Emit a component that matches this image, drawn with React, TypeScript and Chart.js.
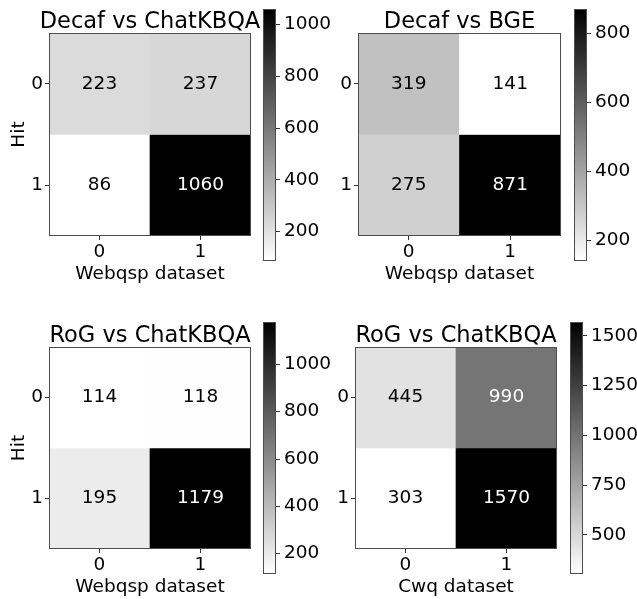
import React, { useEffect, useRef } from "react";
import { Chart, registerables } from "chart.js";

Chart.register(...registerables);

const FONT = "'DejaVu Sans', sans-serif";

// ---------- data ----------
const xLabels = ["0", "1"];
const yLabels = ["0", "1"];
const yTitle = "Hit";

const titles = ["Decaf vs ChatKBQA", "Decaf vs BGE", "RoG vs ChatKBQA", "RoG vs ChatKBQA"];
const xTitles = ["Webqsp dataset", "Webqsp dataset", "Webqsp dataset", "Cwq dataset"];

const decafChatkbqa = [
  [223, 237],
  [86, 1060],
];
const decafBge = [
  [319, 141],
  [275, 871],
];
const rogChatkbqaWebqsp = [
  [114, 118],
  [195, 1179],
];
const rogChatkbqaCwq = [
  [445, 990],
  [303, 1570],
];

const cbTicks1 = [200, 400, 600, 800, 1000];
const cbTicks2 = [200, 400, 600, 800];
const cbTicks3 = [200, 400, 600, 800, 1000];
const cbTicks4 = [500, 750, 1000, 1250, 1500];

// ---------- helpers ----------
function grayR(v: number, vmin: number, vmax: number) {
  const t = Math.max(0, Math.min(1, (v - vmin) / (vmax - vmin)));
  const g = Math.round(255 * (1 - t));
  return `rgb(${g},${g},${g})`;
}

const boxPlugin = {
  id: "box",
  afterDraw(chart: any) {
    const { ctx, chartArea } = chart;
    ctx.save();
    ctx.strokeStyle = "#4d4d4d";
    ctx.lineWidth = 1;
    ctx.strokeRect(
      Math.round(chartArea.left) + 0.5,
      Math.round(chartArea.top) + 0.5,
      Math.round(chartArea.right - chartArea.left) - 1,
      Math.round(chartArea.bottom - chartArea.top) - 1
    );
    ctx.restore();
  },
};

const valuePlugin = {
  id: "cellValues",
  afterDatasetsDraw(chart: any) {
    const { ctx } = chart;
    const opts = chart.options.plugins.cellValues;
    ctx.save();
    ctx.font = `18.5px ${FONT}`;
    ctx.textAlign = "center";
    ctx.textBaseline = "middle";
    chart.data.datasets.forEach((ds: any, di: number) => {
      const meta = chart.getDatasetMeta(di);
      meta.data.forEach((el: any, i: number) => {
        const v = ds.values[i];
        ctx.fillStyle = v > opts.mid ? "#ffffff" : "#000000";
        ctx.fillText(String(v), el.x, (el.y + el.base) / 2);
      });
    });
    ctx.restore();
  },
};

type HeatProps = {
  matrix: number[][];
  title: string;
  xTitle: string;
  showYTitle: boolean;
  plotL: number;
  plotT: number;
  plotW: number;
  plotH: number;
};

const PAD_SIDE = 49;
const PAD_TOP = 33;
const PAD_BOTTOM = 49;

function Heatmap({ matrix, title, xTitle, showYTitle, plotL, plotT, plotW, plotH }: HeatProps) {
  const ref = useRef<HTMLCanvasElement>(null);
  const cw = plotW + PAD_SIDE * 2;
  const ch = plotH + PAD_TOP + PAD_BOTTOM;
  useEffect(() => {
    const flat = matrix.flat();
    const vmin = Math.min(...flat);
    const vmax = Math.max(...flat);
    const datasets = matrix.map((row, r) => ({
      label: yLabels[r],
      data: row.map(() => [r - 0.5, r + 0.5]),
      values: row,
      backgroundColor: row.map((v) => grayR(v, vmin, vmax)),
      borderWidth: 0,
      barPercentage: 1,
      categoryPercentage: 1,
      grouped: false,
    }));
    const tickFont = { family: FONT, size: 18.5 };
    const chart = new Chart(ref.current as HTMLCanvasElement, {
      type: "bar",
      data: { labels: xLabels, datasets: datasets as any },
      plugins: [boxPlugin, valuePlugin],
      options: {
        animation: false,
        responsive: false,
        devicePixelRatio: 1,
        layout: { padding: { top: 10.5, left: 0, right: 0, bottom: 0 } },
        plugins: {
          legend: { display: false },
          tooltip: { enabled: false },
          title: {
            display: true,
            text: title,
            color: "#000",
            font: { family: FONT, size: 22.5, weight: "normal", lineHeight: 1 },
            padding: 0,
          },
          cellValues: { mid: (vmin + vmax) / 2 },
        } as any,
        scales: {
          x: {
            type: "category",
            offset: true,
            grid: { offset: false, drawOnChartArea: false, drawTicks: true, tickLength: 4, color: "#333" },
            border: { display: false },
            ticks: { font: tickFont, color: "#000", padding: 1, maxRotation: 0 },
            title: { display: true, text: xTitle, color: "#000", font: tickFont, padding: { top: 0, bottom: 0 } },
            afterFit: (s: any) => {
              s.height = PAD_BOTTOM;
            },
          },
          y: {
            type: "linear",
            min: -0.5,
            max: 1.5,
            reverse: true,
            afterBuildTicks: (s: any) => {
              s.ticks = yLabels.map((_, i) => ({ value: i }));
            },
            ticks: {
              font: tickFont,
              color: "#000",
              padding: 2,
              callback: (v: any) => yLabels[v] ?? "",
            },
            grid: { drawOnChartArea: false, drawTicks: true, tickLength: 4, color: "#333" },
            border: { display: false },
            title: {
              display: showYTitle,
              text: yTitle,
              color: "#000",
              font: tickFont,
              padding: { top: 8, bottom: 0 },
            },
            afterFit: (s: any) => {
              s.width = PAD_SIDE;
            },
          },
          y2: {
            type: "linear",
            position: "right",
            min: 0,
            max: 1,
            grid: { display: false, drawTicks: false },
            ticks: { display: false },
            border: { display: false },
            afterFit: (s: any) => {
              s.width = PAD_SIDE;
            },
          },
        } as any,
      },
    });
    return () => chart.destroy();
  }, [matrix, title, xTitle, showYTitle]);
  return (
    <canvas
      ref={ref}
      width={cw}
      height={ch}
      style={{ position: "absolute", left: plotL - PAD_SIDE, top: plotT - PAD_TOP, width: cw, height: ch }}
    />
  );
}

type CbProps = { matrix: number[][]; ticks: number[]; cbL: number; cbT: number; cbW: number; cbH: number };

const CB_PAD_V = 16;
const CB_AXIS_W = 67;

function Colorbar({ matrix, ticks, cbL, cbT, cbW, cbH }: CbProps) {
  const ref = useRef<HTMLCanvasElement>(null);
  const cw = cbW + CB_AXIS_W;
  const ch = cbH + CB_PAD_V * 2;
  useEffect(() => {
    const flat = matrix.flat();
    const vmin = Math.min(...flat);
    const vmax = Math.max(...flat);
    const tickFont = { family: FONT, size: 18.5 };
    const chart = new Chart(ref.current as HTMLCanvasElement, {
      type: "bar",
      data: {
        labels: [""],
        datasets: [
          {
            data: [[vmin, vmax]] as any,
            borderWidth: 0,
            barPercentage: 1,
            categoryPercentage: 1,
            backgroundColor: (c: any) => {
              const area = c.chart.chartArea;
              if (!area) return "#888";
              const g = c.chart.ctx.createLinearGradient(0, area.bottom, 0, area.top);
              g.addColorStop(0, grayR(vmin, vmin, vmax));
              g.addColorStop(1, grayR(vmax, vmin, vmax));
              return g;
            },
          },
        ],
      },
      plugins: [boxPlugin],
      options: {
        animation: false,
        responsive: false,
        devicePixelRatio: 1,
        layout: { padding: { top: CB_PAD_V, bottom: CB_PAD_V, left: 0, right: 0 } },
        plugins: { legend: { display: false }, tooltip: { enabled: false } },
        scales: {
          x: { display: false, offset: true },
          y: {
            type: "linear",
            position: "right",
            min: vmin,
            max: vmax,
            bounds: "data",
            afterBuildTicks: (s: any) => {
              s.ticks = ticks.map((v) => ({ value: v }));
            },
            ticks: { font: tickFont, color: "#000", padding: 4, autoSkip: false, callback: (v: any) => String(v) },
            grid: { drawOnChartArea: false, drawTicks: true, tickLength: 4, color: "#333" },
            border: { display: false },
            afterFit: (s: any) => {
              s.width = CB_AXIS_W;
            },
          },
        } as any,
      },
    });
    return () => chart.destroy();
  }, [matrix, ticks]);
  return (
    <canvas
      ref={ref}
      width={cw}
      height={ch}
      style={{ position: "absolute", left: cbL, top: cbT - CB_PAD_V, width: cw, height: ch }}
    />
  );
}

export default function App() {
  return (
    <div style={{ position: "absolute", left: 0, top: 0, width: 637, height: 599, background: "#fff", overflow: "hidden" }}>
      <Heatmap matrix={decafChatkbqa} title={titles[0]} xTitle={xTitles[0]} showYTitle plotL={49} plotT={33} plotW={202} plotH={203} />
      <Heatmap matrix={decafBge} title={titles[1]} xTitle={xTitles[1]} showYTitle={false} plotL={358} plotT={33} plotW={203} plotH={203} />
      <Heatmap matrix={rogChatkbqaWebqsp} title={titles[2]} xTitle={xTitles[2]} showYTitle plotL={49} plotT={347} plotW={202} plotH={202} />
      <Heatmap matrix={rogChatkbqaCwq} title={titles[3]} xTitle={xTitles[3]} showYTitle={false} plotL={355} plotT={347} plotW={202} plotH={202} />
      <Colorbar matrix={decafChatkbqa} ticks={cbTicks1} cbL={263} cbT={9} cbW={13} cbH={252} />
      <Colorbar matrix={decafBge} ticks={cbTicks2} cbL={574} cbT={9} cbW={13} cbH={252} />
      <Colorbar matrix={rogChatkbqaWebqsp} ticks={cbTicks3} cbL={263} cbT={322} cbW={13} cbH={252} />
      <Colorbar matrix={rogChatkbqaCwq} ticks={cbTicks4} cbL={570} cbT={322} cbW={13} cbH={252} />
    </div>
  );
}
